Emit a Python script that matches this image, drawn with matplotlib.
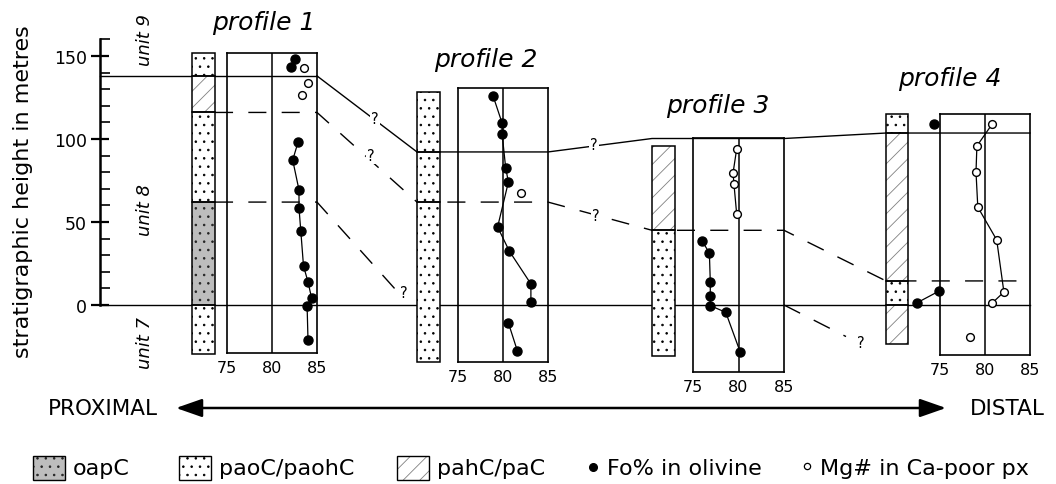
import matplotlib
matplotlib.use('Agg')
import matplotlib.pyplot as plt
from matplotlib.patches import Rectangle
import numpy as np

plt.rcParams['font.family'] = ['DejaVu Sans']
plt.rcParams['hatch.linewidth'] = 0.6
plt.rcParams['lines.scale_dashes'] = False

# ---------------- data ----------------
profile_names = ['profile 1', 'profile 2', 'profile 3', 'profile 4']
comp_ticks = [75, 80, 85]
comp_ticklabels = ['75', '80', '85']
height_ticks = [0, 50, 100, 150]
unit_names = ['unit 9', 'unit 8', 'unit 7']

# profile 1
p1_fo_top = [82.6, 82.1]
p1_fo_top_h = [148.2, 143.4]
p1_fo = [82.9, 82.3, 83.0, 83.0, 83.2, 83.5, 84.0, 84.4, 83.9, 84.0]
p1_fo_h = [98.2, 87.3, 69.3, 58.4, 44.6, 23.5, 13.9, 4.2, -0.6, -21.0]
p1_mg = [83.6, 84.0, 83.3]
p1_mg_h = [142.6, 133.7, 126.7]

# profile 2
p2_fo = [78.9, 79.9, 79.9, 80.3, 80.6, 79.4, 80.7, 83.1, 83.1]
p2_fo_h = [125.9, 109.6, 103.0, 82.5, 74.1, 47.0, 32.5, 12.7, 1.8]
p2_fo_low = [80.6, 81.6]
p2_fo_low_h = [-10.8, -27.7]
p2_mg = [82.0]
p2_mg_h = [67.5]

# profile 3
p3_fo = [76.0, 76.8, 76.9, 76.9, 76.9, 78.6, 80.2]
p3_fo_h = [38.6, 31.3, 13.9, 5.6, -0.4, -4.4, -28.5]
p3_mg = [79.8, 79.4, 79.5, 79.8]
p3_mg_h = [94.0, 79.5, 72.9, 54.8]

# profile 4
p4_fo_top = [74.3]
p4_fo_top_h = [109.0]
p4_fo = [74.9, 72.4]
p4_fo_h = [8.4, 1.2]
p4_mg = [80.8, 79.1, 79.0, 79.2, 81.3, 82.1, 80.8]
p4_mg_h = [109.0, 95.8, 80.1, 59.0, 39.2, 7.8, 1.2]
p4_mg_low = [78.3]
p4_mg_low_h = [-19.3]

# composition box height ranges (m)
box_top = [152.0, 130.7, 100.6, 115.0]
box_bot = [-28.9, -34.3, -40.4, -30.1]

# lithology columns: (top, bottom, type)
p1_litho = [(152.0, 138.0, 'paoC'), (138.0, 116.0, 'pahC'), (116.0, 62.0, 'paoC'),
            (62.0, 0.0, 'oapC'), (0.0, -29.5, 'paoC')]
p2_litho = [(128.3, 92.2, 'paoC'), (92.2, 62.0, 'paoC'), (62.0, -34.5, 'paoC')]
p3_litho = [(95.8, 45.2, 'pahC'), (45.2, -30.7, 'paoC')]
p4_litho = [(115.0, 103.6, 'paoC'), (103.6, 14.5, 'pahC'), (14.5, 0.0, 'paoC'),
            (0.0, -23.5, 'pahC')]

# correlated boundaries (m)
unit89_h = [138.0, 92.2, 100.3, 103.6]          # unit 8 / unit 9 boundary
inner8_h = [116.0, 62.0, 45.0, 14.5]            # dashed boundary within unit 8
p1_lower_h = 62.0
p1_lower_end_h = 9.0
p3_zero_end_h = -19.0

# ---------------- layout ----------------
W, H = 1056, 485
fig = plt.figure(figsize=(W / 100, H / 100), dpi=100)
H_TOP = 306 / 1.66
H_BOT = (306 - H) / 1.66

col_x = [(192, 215), (417, 440), (652, 675), (886, 908)]
box_x = [(227, 317), (458, 548), (693, 784), (940, 1030)]
AXIS_X = 100

def frac_y(h):
    return (h - H_BOT) / (H_TOP - H_BOT)

# overlay axes in pixel coordinates for labels/legend
lay = fig.add_axes([0, 0, 1, 1])
lay.set_xlim(0, W)
lay.set_ylim(H, 0)
lay.axis('off')

# main axes: x = horizontal layout, y = stratigraphic height
ax = fig.add_axes([0, 0, 1, 1])
ax.set_xlim(0, W)
ax.set_ylim(H_BOT, H_TOP)
ax.patch.set_alpha(0)
for s in ['top', 'right', 'bottom']:
    ax.spines[s].set_visible(False)
ax.spines['left'].set_position(('data', AXIS_X))
ax.spines['left'].set_bounds(0, 160)
ax.spines['left'].set_linewidth(1.8)
ax.set_xticks([])
ax.set_yticks(height_ticks)
ax.set_yticks(np.arange(0, 161, 10), minor=True)
ax.tick_params(axis='y', which='major', direction='inout', length=13, width=1.6,
               labelsize=12.5, pad=3)
ax.tick_params(axis='y', which='minor', direction='in', length=7, width=1.2)

lay.text(23, 192, 'stratigraphic height in metres', rotation=90, ha='center',
         va='center', fontsize=16)

# unit labels
for name, y in zip(unit_names, [40, 210, 343]):
    lay.text(145, y, name, rotation=90, ha='center', va='center', fontsize=13,
             style='italic')

# titles
for name, (x, y) in zip(profile_names, [(264, 30), (486, 67), (718, 113), (950, 86)]):
    lay.text(x, y, name, ha='center', va='baseline', fontsize=18, style='italic')

# lithology styles
litho_style = {
    'oapC': dict(fc='#bdbdbd', hc='#222222', hatch='..'),
    'paoC': dict(fc='white', hc='black', hatch='..'),
    'pahC': dict(fc='white', hc='#808080', hatch='//'),
}

def draw_layer(axis, xl, xr, top, bot, kind, z=3):
    st = litho_style[kind]
    axis.bar((xl + xr) / 2, top - bot, bottom=bot, width=xr - xl, color=st['fc'],
             edgecolor=st['hc'], hatch=st['hatch'], linewidth=0, zorder=z)
    axis.bar((xl + xr) / 2, top - bot, bottom=bot, width=xr - xl, fill=False,
             edgecolor='black', linewidth=1.1, zorder=z + 1)

for (xl, xr), litho in zip(col_x, [p1_litho, p2_litho, p3_litho, p4_litho]):
    for top, bot, kind in litho:
        draw_layer(ax, xl, xr, top, bot, kind)

# correlation lines
lk = dict(color='black', lw=1.0, zorder=2)
ax.plot([AXIS_X, box_x[0][1]], [unit89_h[0]] * 2, **lk)
xs, hs = [], []
for i in range(4):
    if i > 0:
        xs.append(col_x[i][0]); hs.append(unit89_h[i])
    xs.append(box_x[i][1]); hs.append(unit89_h[i])
ax.plot(xs, hs, **lk)
ax.plot([AXIS_X, box_x[3][1]], [0, 0], **lk)

dash = (0, (13, 11))
xs, hs = [col_x[0][1]], [inner8_h[0]]
for i in range(4):
    if i > 0:
        xs.append(col_x[i][0]); hs.append(inner8_h[i])
    xs.append(box_x[i][1]); hs.append(inner8_h[i])
ax.plot(xs, hs, ls=dash, **lk)
ax.plot([col_x[0][1], box_x[0][1], 396], [p1_lower_h, p1_lower_h, p1_lower_end_h],
        ls=dash, **lk)
ax.plot([box_x[2][1], 846], [0, p3_zero_end_h], ls=dash, **lk)

qk = dict(ha='center', va='center', fontsize=10.5, zorder=5,
          bbox=dict(boxstyle='square,pad=0.05', fc='white', ec='none'))
for x, h in [(375, 112.5), (371, 90.0), (404, 7.5), (594, 96.5), (596, 54.0)]:
    ax.text(x, h, '?', **qk)
ax.text(861, -22.3, '?', ha='center', va='center', fontsize=10.5)

# composition boxes
fo_sets = [
    [(p1_fo_top, p1_fo_top_h, False), (p1_fo, p1_fo_h, True)],
    [(p2_fo, p2_fo_h, True), (p2_fo_low, p2_fo_low_h, True)],
    [(p3_fo, p3_fo_h, True)],
    [(p4_fo_top, p4_fo_top_h, False), (p4_fo, p4_fo_h, True)],
]
mg_sets = [
    [(p1_mg, p1_mg_h, False)],
    [(p2_mg, p2_mg_h, False)],
    [(p3_mg, p3_mg_h, True)],
    [(p4_mg, p4_mg_h, True), (p4_mg_low, p4_mg_low_h, False)],
]
for i in range(4):
    x0, x1 = box_x[i]
    top, bot = box_top[i], box_bot[i]
    iax = fig.add_axes([x0 / W, frac_y(bot), (x1 - x0) / W, frac_y(top) - frac_y(bot)])
    iax.set_xlim(75, 85)
    iax.set_ylim(bot, top)
    iax.patch.set_alpha(0)
    iax.set_xticks(comp_ticks)
    iax.set_xticklabels(comp_ticklabels)
    iax.set_yticks([])
    iax.tick_params(axis='x', length=0, labelsize=11.5, pad=5)
    for sp in iax.spines.values():
        sp.set_linewidth(1.2)
    iax.axvline(80, color='black', lw=1.1)
    for vals, hts, joined in fo_sets[i]:
        if joined:
            iax.plot(vals, hts, color='black', lw=0.9, clip_on=False)
        iax.plot(vals, hts, 'o', ms=6.5, color='black', clip_on=False, zorder=4)
    for vals, hts, joined in mg_sets[i]:
        if joined:
            iax.plot(vals, hts, color='black', lw=0.9, clip_on=False)
        iax.plot(vals, hts, 'o', ms=5.6, mfc='white', mec='black', mew=1.0,
                 clip_on=False, zorder=4)

# proximal - distal arrow
lay.annotate('', xy=(176, 409), xytext=(946, 409),
             arrowprops=dict(arrowstyle='<|-|>,head_length=0.8,head_width=0.28',
                             color='black', lw=1.8, shrinkA=0, shrinkB=0,
                             mutation_scale=20))
lay.text(158, 409, 'PROXIMAL', ha='right', va='center', fontsize=15.5)
lay.text(970, 409, 'DISTAL', ha='left', va='center', fontsize=15.5)

# legend
LY = 469
for xb, kind, label in [(33, 'oapC', 'oapC'), (179, 'paoC', 'paoC/paohC'),
                        (397, 'pahC', 'pahC/paC')]:
    st = litho_style[kind]
    lay.add_patch(Rectangle((xb, LY - 12), 32, 24, facecolor=st['fc'],
                            edgecolor=st['hc'], hatch=st['hatch'], linewidth=0))
    lay.add_patch(Rectangle((xb, LY - 12), 32, 24, fill=False, edgecolor='black',
                            linewidth=1.0))
    lay.text(xb + 40, LY, label, ha='left', va='center', fontsize=16)
lay.plot([593], [LY - 1], 'o', ms=5.5, color='black')
lay.text(607, LY, 'Fo% in olivine', ha='left', va='center', fontsize=16)
lay.plot([807], [LY - 2], 'o', ms=4.5, mfc='white', mec='black', mew=0.9)
lay.text(820, LY, 'Mg# in Ca-poor px', ha='left', va='center', fontsize=16)

fig.savefig('out.png', dpi=100)
